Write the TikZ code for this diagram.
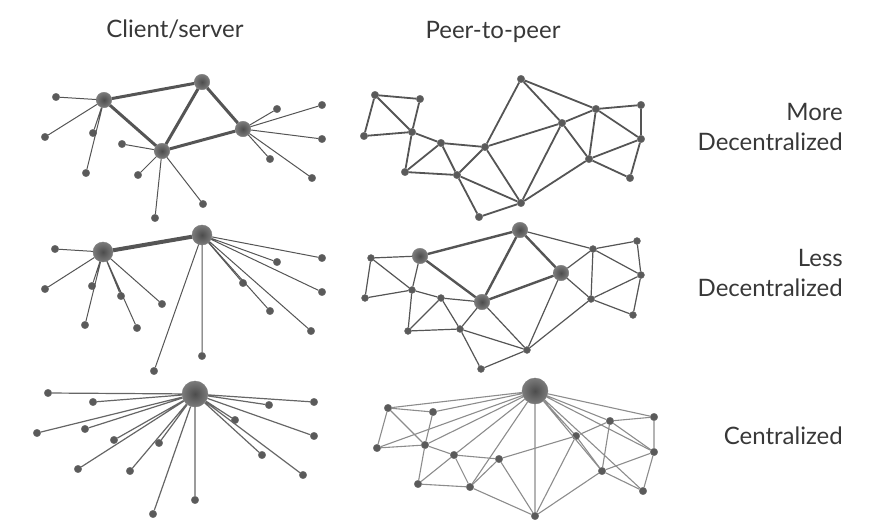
\documentclass[tikz,border=0pt]{standalone}
\usepackage{fontspec}
\setmainfont{Lato}
\usepackage{tikz}
\definecolor{dotgray}{HTML}{5A5A5A}
\definecolor{linegray}{HTML}{555555}
\definecolor{lightline}{HTML}{8C8C8C}
\definecolor{labelgray}{HTML}{383838}
\tikzstyle{dot} = [circle, fill=dotgray, draw=dotgray!85, inner sep=0pt, minimum size=7.5pt]
\tikzstyle{hub} = [circle, inner sep=0pt, minimum size=15.5pt, draw=dotgray!80, inner color=dotgray!85!black, outer color=dotgray!80]
\tikzstyle{bighub} = [hub, minimum size=20pt]
\tikzstyle{tophub} = [hub, minimum size=26pt]
\tikzstyle{spoke} = [draw=linegray, line width=1pt]
\tikzstyle{trunk} = [draw=linegray, line width=3pt]
\tikzstyle{mesh} = [draw=linegray, line width=1.8pt]
\tikzstyle{thinmesh} = [draw=lightline, line width=1.1pt]
\tikzstyle{title} = [text=labelgray, font=\fontsize{24}{28}\selectfont, anchor=base, inner sep=0pt]
\tikzstyle{level} = [text=labelgray, font=\fontsize{24}{30}\selectfont, align=right, anchor=east, inner sep=0pt]

\begin{document}
\begin{tikzpicture}[x=1pt, y=-1pt]
    \useasboundingbox (0,0) rectangle (879,531);

    % column titles
    \node (cstitle) [title] at (175,37) {Client/server};
    \node (pptitle) [title] at (493,38) {Peer-to-peer};

    % row labels
    \node (morelabel) [level] at (843,127) {More\\Decentralized};
    \node (lesslabel) [level] at (843,273) {Less\\Decentralized};
    \node (centlabel) [level] at (843,436) {Centralized};

    % client/server, more decentralized
    \node (h1a) [hub] at (104,100) {};
    \node (h1b) [hub] at (202,82) {};
    \node (h1c) [hub] at (162,151) {};
    \node (h1d) [hub] at (243,129) {};
    \node (l1a) [dot] at (56,97) {};
    \node (l1b) [dot] at (45,137) {};
    \node (l1c) [dot] at (93,133) {};
    \node (l1d) [dot] at (86,173) {};
    \node (l1e) [dot] at (122,144) {};
    \node (l1f) [dot] at (138,175) {};
    \node (l1g) [dot] at (203,204) {};
    \node (l1h) [dot] at (155,218) {};
    \node (l1i) [dot] at (277,109) {};
    \node (l1j) [dot] at (322,105) {};
    \node (l1k) [dot] at (322,139) {};
    \node (l1l) [dot] at (270,159) {};
    \node (l1m) [dot] at (312,178) {};

    \draw[trunk] (h1a) -- (h1b);
    \draw[trunk] (h1a) -- (h1c);
    \draw[trunk] (h1b) -- (h1c);
    \draw[trunk] (h1b) -- (h1d);
    \draw[trunk] (h1c) -- (h1d);
    \draw[spoke] (h1a) -- (l1a) (h1a) -- (l1b) (h1a) -- (l1c) (h1a) -- (l1d);
    \draw[spoke] (h1c) -- (l1e) (h1c) -- (l1f) (h1c) -- (l1g) (h1c) -- (l1h);
    \draw[spoke] (h1d) -- (l1i) (h1d) -- (l1j) (h1d) -- (l1k) (h1d) -- (l1l) (h1d) -- (l1m);

    % peer-to-peer, more decentralized
    \node (m1) [dot] at (375,95) {};
    \node (m2) [dot] at (420,99) {};
    \node (m3) [dot] at (364,136) {};
    \node (m4) [dot] at (412,132) {};
    \node (m5) [dot] at (441,143) {};
    \node (m6) [dot] at (405,172) {};
    \node (m7) [dot] at (457,175) {};
    \node (m8) [dot] at (485,147) {};
    \node (m9) [dot] at (521,79) {};
    \node (m10) [dot] at (479,217) {};
    \node (m11) [dot] at (521,203) {};
    \node (m12) [dot] at (562,123) {};
    \node (m13) [dot] at (596,109) {};
    \node (m14) [dot] at (641,105) {};
    \node (m15) [dot] at (641,139) {};
    \node (m16) [dot] at (589,159) {};
    \node (m17) [dot] at (630,178) {};

    \draw[mesh] (m1) -- (m2) (m1) -- (m3) (m1) -- (m4) (m2) -- (m4) (m3) -- (m4);
    \draw[mesh] (m4) -- (m5) (m4) -- (m6) (m5) -- (m6) (m5) -- (m7) (m5) -- (m8) (m6) -- (m7);
    \draw[mesh] (m7) -- (m8) (m7) -- (m10) (m7) -- (m11) (m10) -- (m11);
    \draw[mesh] (m8) -- (m9) (m8) -- (m11) (m8) -- (m12) (m9) -- (m12) (m9) -- (m13);
    \draw[mesh] (m11) -- (m12) (m11) -- (m16) (m12) -- (m13) (m12) -- (m16);
    \draw[mesh] (m13) -- (m14) (m13) -- (m15) (m13) -- (m16) (m14) -- (m15);
    \draw[mesh] (m15) -- (m16) (m15) -- (m17) (m16) -- (m17);

    % client/server, less decentralized
    \node (h3a) [bighub] at (103,252) {};
    \node (h3b) [bighub] at (202,235) {};
    \node (l3a) [dot] at (55,249) {};
    \node (l3b) [dot] at (45,289) {};
    \node (l3c) [dot] at (92,286) {};
    \node (l3d) [dot] at (85,325) {};
    \node (l3e) [dot] at (121,296) {};
    \node (l3f) [dot] at (137,328) {};
    \node (l3g) [dot] at (162,304) {};
    \node (l3h) [dot] at (277,262) {};
    \node (l3i) [dot] at (322,258) {};
    \node (l3j) [dot] at (322,292) {};
    \node (l3k) [dot] at (243,283) {};
    \node (l3l) [dot] at (270,311) {};
    \node (l3m) [dot] at (311,331) {};
    \node (l3n) [dot] at (202,356) {};
    \node (l3o) [dot] at (154,371) {};

    \draw[trunk, line width=4pt] (h3a) -- (h3b);
    \draw[spoke] (h3a) -- (l3a) (h3a) -- (l3b) (h3a) -- (l3c) (h3a) -- (l3d) (h3a) -- (l3e) (h3a) -- (l3f) (h3a) -- (l3g);
    \draw[spoke] (h3b) -- (l3h) (h3b) -- (l3i) (h3b) -- (l3j) (h3b) -- (l3k);
    \draw[spoke] (h3b) -- (l3l) (h3b) -- (l3m) (h3b) -- (l3n) (h3b) -- (l3o);

    % peer-to-peer, less decentralized
    \node (h4a) [hub] at (420,256) {};
    \node (h4b) [hub] at (520,230) {};
    \node (h4c) [hub] at (561,273) {};
    \node (h4d) [hub] at (482,302) {};
    \node (q1) [dot, minimum size=7pt] at (371,258) {};
    \node (q2) [dot, minimum size=7pt] at (365,298) {};
    \node (q3) [dot, minimum size=7pt] at (412,290) {};
    \node (q4) [dot, minimum size=7pt] at (441,298) {};
    \node (q5) [dot, minimum size=7pt] at (408,331) {};
    \node (q6) [dot, minimum size=7pt] at (460,329) {};
    \node (q7) [dot, minimum size=7pt] at (527,350) {};
    \node (q8) [dot, minimum size=7pt] at (481,369) {};
    \node (q9) [dot, minimum size=7pt] at (593,249) {};
    \node (q10) [dot, minimum size=7pt] at (637,241) {};
    \node (q11) [dot, minimum size=7pt] at (641,275) {};
    \node (q12) [dot, minimum size=7pt] at (591,299) {};
    \node (q13) [dot, minimum size=7pt] at (633,315) {};

    \draw[trunk, line width=2.4pt] (h4a) -- (h4b) (h4a) -- (h4d) (h4b) -- (h4d) (h4b) -- (h4c) (h4c) -- (h4d);
    \draw[spoke, line width=1.2pt] (q1) -- (h4a) (q1) -- (q2) (q1) -- (q3) (q2) -- (q3) (h4a) -- (q3);
    \draw[spoke, line width=1.2pt] (q3) -- (q4) (q3) -- (q5) (q4) -- (q5) (q4) -- (h4d) (q4) -- (q6) (q5) -- (q6);
    \draw[spoke, line width=1.2pt] (q6) -- (h4d) (q6) -- (q7) (q6) -- (q8) (q8) -- (q7) (h4d) -- (q7) (h4c) -- (q7);
    \draw[spoke, line width=1.2pt] (h4b) -- (q9) (h4c) -- (q9) (h4c) -- (q12) (q9) -- (q10) (q9) -- (q12) (q9) -- (q11);
    \draw[spoke, line width=1.2pt] (q10) -- (q11) (q11) -- (q12) (q11) -- (q13) (q12) -- (q13) (q12) -- (q7);

    % client/server, centralized
    \node (h5) [tophub] at (195,394) {};
    \node (l5a) [dot] at (48,393) {};
    \node (l5b) [dot] at (93,402) {};
    \node (l5c) [dot] at (37,433) {};
    \node (l5d) [dot] at (85,429) {};
    \node (l5e) [dot] at (114,440) {};
    \node (l5f) [dot] at (159,443) {};
    \node (l5g) [dot] at (78,469) {};
    \node (l5h) [dot] at (130,471) {};
    \node (l5i) [dot] at (153,514) {};
    \node (l5j) [dot] at (195,500) {};
    \node (l5k) [dot] at (269,405) {};
    \node (l5l) [dot] at (314,402) {};
    \node (l5m) [dot] at (235,420) {};
    \node (l5n) [dot] at (314,436) {};
    \node (l5o) [dot] at (262,455) {};
    \node (l5p) [dot] at (303,475) {};

    \draw[spoke, draw=linegray!90, line width=1.2pt] (h5) -- (l5a) (h5) -- (l5b) (h5) -- (l5c) (h5) -- (l5d);
    \draw[spoke, draw=linegray!90, line width=1.2pt] (h5) -- (l5e) (h5) -- (l5f) (h5) -- (l5g) (h5) -- (l5h);
    \draw[spoke, draw=linegray!90, line width=1.2pt] (h5) -- (l5i) (h5) -- (l5j) (h5) -- (l5k) (h5) -- (l5l);
    \draw[spoke, draw=linegray!90, line width=1.2pt] (h5) -- (l5m) (h5) -- (l5n) (h5) -- (l5o) (h5) -- (l5p);

    % peer-to-peer, centralized
    \node (h6) [tophub] at (535,391) {};
    \node (r1) [dot] at (388,408) {};
    \node (r2) [dot] at (433,412) {};
    \node (r3) [dot] at (377,448) {};
    \node (r4) [dot] at (425,445) {};
    \node (r5) [dot] at (454,455) {};
    \node (r6) [dot] at (418,484) {};
    \node (r7) [dot] at (470,487) {};
    \node (r8) [dot] at (499,459) {};
    \node (r9) [dot] at (535,516) {};
    \node (r10) [dot] at (576,436) {};
    \node (r11) [dot] at (610,421) {};
    \node (r12) [dot] at (654,417) {};
    \node (r13) [dot] at (654,452) {};
    \node (r14) [dot] at (602,471) {};
    \node (r15) [dot] at (643,491) {};

    \draw[thinmesh] (h6) -- (r1) (h6) -- (r2) (h6) -- (r3) (h6) -- (r4) (h6) -- (r5) (h6) -- (r7);
    \draw[thinmesh] (h6) -- (r9) (h6) -- (r10) (h6) -- (r11) (h6) -- (r12) (h6) -- (r13) (h6) -- (r14) (h6) -- (r15);
    \draw[thinmesh] (r1) -- (r2) (r1) -- (r3) (r1) -- (r4) (r2) -- (r4) (r3) -- (r4);
    \draw[thinmesh] (r4) -- (r5) (r4) -- (r6) (r5) -- (r6) (r5) -- (r7) (r5) -- (r8) (r6) -- (r7);
    \draw[thinmesh] (r7) -- (r8) (r7) -- (r9) (r8) -- (r9) (r8) -- (r10) (r9) -- (r10) (r9) -- (r14);
    \draw[thinmesh] (r10) -- (r11) (r10) -- (r14) (r11) -- (r12) (r11) -- (r13) (r11) -- (r14);
    \draw[thinmesh] (r12) -- (r13) (r13) -- (r14) (r13) -- (r15) (r14) -- (r15);
\end{tikzpicture}
\end{document}
